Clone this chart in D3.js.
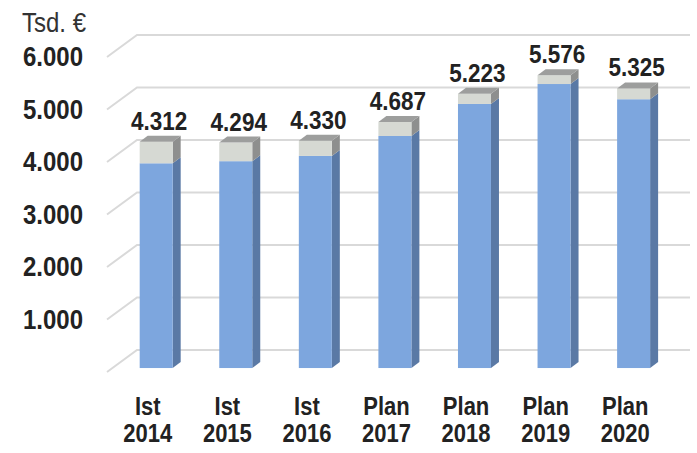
<!DOCTYPE html>
<html>
<head>
<meta charset="utf-8">
<script src="https://d3js.org/d3.v7.min.js"></script>
<style>
  body { margin: 0; background: #fff; }
  svg { display: block; font-family: "Liberation Sans", Arial, sans-serif; }
</style>
</head>
<body>
<svg id="canvas" width="697" height="453"></svg>
<script>
"use strict"

const categories = [["Ist", "2014"], ["Ist", "2015"], ["Ist", "2016"], ["Plan", "2017"], ["Plan", "2018"], ["Plan", "2019"], ["Plan", "2020"]]
const blueValues = [3900, 3940, 4040, 4420, 5030, 5410, 5120]
const grayValues = [412, 354, 290, 267, 193, 166, 205]
const yTicks = [0, 1000, 2000, 3000, 4000, 5000, 6000]

const $ = {
  width: 697,
  height: 453,
  frontLeft: 108,
  frontRight: 665,
  backRight: 690,
  floorY: 372,
  depthX: 30,
  depthY: 22,
  barZ: 0.18,
  barW: 33,
  sideX: 8,
  sideY: 6,
  stretch: 1.14,
}

const de = d3.formatLocale({ decimal: ",", thousands: ".", grouping: [3], currency: ["", " €"] })
const fmt = de.format(",")

const svg = d3.select("#canvas")

// text slightly taller than wide, like the source picture
const place = (px, py) => "translate(" + px + "," + py + ") scale(1," + $.stretch + ")"

const x = d3.scaleBand()
  .domain(categories.map((c, i) => i))
  .range([$.frontLeft, $.frontRight])

const y = d3.scaleLinear()
  .domain([0, 6000])
  .range([$.floorY, $.floorY - 315])

// data rows for the stack
const rows = categories.map((c, i) => ({ i: i, blue: blueValues[i], gray: grayValues[i] }))
const series = d3.stack().keys(["blue", "gray"])(rows)

// grid: side wall diagonal + back wall line
const grid = svg.append("g")
grid.selectAll("path")
  .data(yTicks)
  .enter().append("path")
    .attr("fill", "none")
    .attr("stroke", "#d9d9d9")
    .attr("stroke-width", 2)
    .attr("d", v => {
      const yf = y(v)
      return "M" + ($.frontLeft - 1) + "," + yf +
        "L" + ($.frontLeft - 1 + $.depthX) + "," + (yf - $.depthY) +
        "L" + $.backRight + "," + (yf - $.depthY)
    })

// y labels
svg.append("g")
  .selectAll("text")
  .data(yTicks.filter(v => v > 0))
  .enter().append("text")
    .attr("transform", v => place(83, y(v) + 9))
    .attr("text-anchor", "end")
    .attr("font-size", 24)
    .attr("font-weight", "bold")
    .attr("fill", "#222")
    .text(v => fmt(v))

svg.append("text")
  .attr("transform", place(22, 32))
  .attr("font-size", 24)
  .attr("fill", "#333")
  .text("Tsd. €")

// bar geometry in bar plane
const shiftX = $.barZ * $.depthX
const shiftY = $.barZ * $.depthY
const barX = i => x(i) + x.bandwidth() / 2 - $.barW / 2 + 3 + shiftX
const yb = v => y(v) - shiftY

const colors = {
  blue: { front: "#7da6de", side: "#5a79a5" },
  gray: { front: "#d6d9d3", side: "#8e8f8e" },
}

const bars = svg.append("g")
series.forEach(layer => {
  const c = colors[layer.key]
  const g = bars.append("g")
  g.selectAll("path.side")
    .data(layer)
    .enter().append("path")
      .attr("class", "side")
      .attr("fill", c.side)
      .attr("d", d => {
        const x1 = barX(d.data.i) + $.barW
        return "M" + x1 + "," + yb(d[0]) +
          "L" + (x1 + $.sideX) + "," + (yb(d[0]) - $.sideY) +
          "L" + (x1 + $.sideX) + "," + (yb(d[1]) - $.sideY) +
          "L" + x1 + "," + yb(d[1]) + "Z"
      })
  g.selectAll("rect")
    .data(layer)
    .enter().append("rect")
      .attr("fill", c.front)
      .attr("x", d => barX(d.data.i))
      .attr("y", d => yb(d[1]))
      .attr("width", $.barW)
      .attr("height", d => yb(d[0]) - yb(d[1]))
})

// top faces
const topLayer = series[series.length - 1]
bars.append("g")
  .selectAll("path")
  .data(topLayer)
  .enter().append("path")
    .attr("fill", "#9d9e9d")
    .attr("d", d => {
      const x0 = barX(d.data.i)
      const yt = yb(d[1])
      return "M" + x0 + "," + yt +
        "L" + (x0 + $.sideX) + "," + (yt - $.sideY) +
        "L" + (x0 + $.barW + $.sideX) + "," + (yt - $.sideY) +
        "L" + (x0 + $.barW) + "," + yt + "Z"
    })

// value labels
svg.append("g")
  .selectAll("text")
  .data(topLayer)
  .enter().append("text")
    .attr("transform", d => place(barX(d.data.i) + $.barW / 2 + 3, yb(d[1]) - $.sideY - 6))
    .attr("text-anchor", "middle")
    .attr("font-size", 22.5)
    .attr("font-weight", "bold")
    .attr("fill", "#222")
    .text(d => fmt(d[1]))

// category labels, two lines each
const cat = svg.append("g")
  .selectAll("g")
  .data(categories)
  .enter().append("g")
cat.selectAll("text")
  .data((c, i) => c.map((t, k) => ({ t: t, k: k, i: i })))
  .enter().append("text")
    .attr("transform", d => place(x(d.i) + x.bandwidth() / 2, 415 + d.k * 27))
    .attr("text-anchor", "middle")
    .attr("font-size", 22)
    .attr("font-weight", "bold")
    .attr("fill", "#222")
    .text(d => d.t)
</script>
</body>
</html>
